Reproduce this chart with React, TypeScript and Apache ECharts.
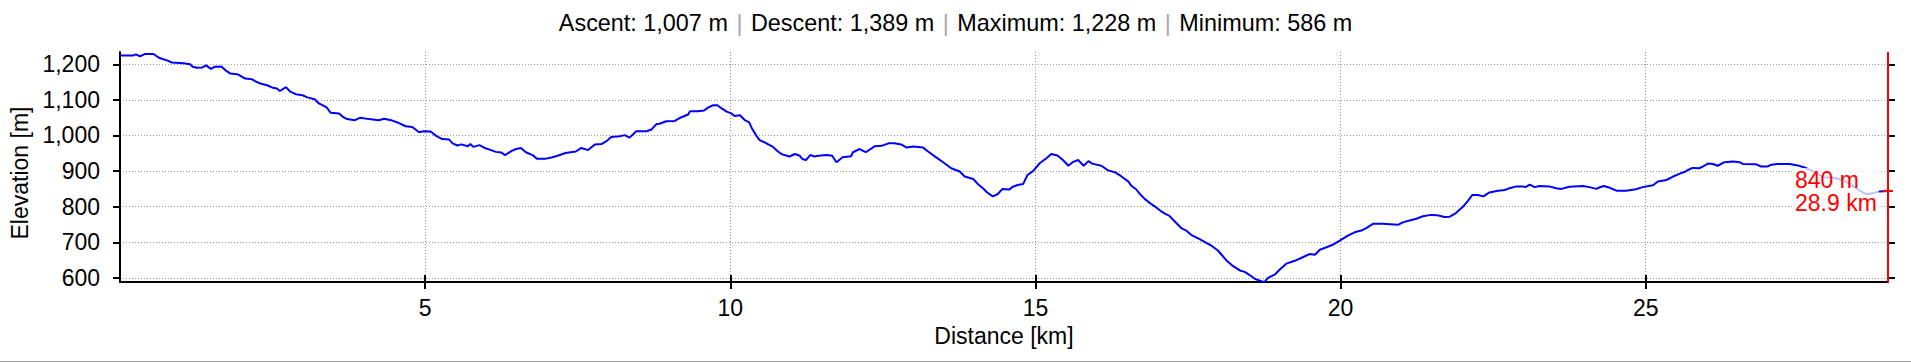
import React, { useEffect, useRef } from "react";
import * as echarts from "echarts";

// ---- data ----
const distanceKm = [
  0, 0.22, 0.26, 0.33, 0.41, 0.55, 0.63, 0.71, 0.77, 0.85, 1.04, 1.15, 1.19, 1.26, 1.35, 1.41, 1.49, 1.55, 1.66, 1.73,
  1.81, 1.94, 2.05, 2.16, 2.22, 2.3, 2.41, 2.49, 2.57, 2.62, 2.72, 2.79, 2.88, 2.99, 3.07, 3.19, 3.26, 3.34, 3.39, 3.45,
  3.59, 3.64, 3.72, 3.85, 3.94, 4.08, 4.24, 4.33, 4.44, 4.57, 4.68, 4.79, 4.9, 4.98, 5.09, 5.18, 5.28, 5.39, 5.45, 5.53,
  5.59, 5.7, 5.74, 5.79, 5.89, 5.99, 6.08, 6.16, 6.25, 6.31, 6.41, 6.49, 6.57, 6.65, 6.76, 6.83, 6.98, 7.07, 7.17, 7.3,
  7.47, 7.56, 7.67, 7.78, 7.89, 7.97, 8.05, 8.19, 8.27, 8.35, 8.46, 8.63, 8.71, 8.79, 8.84, 8.95, 9.09, 9.17, 9.31, 9.34,
  9.47, 9.57, 9.64, 9.72, 9.79, 9.86, 9.94, 10.02, 10.07, 10.16, 10.24, 10.31, 10.36, 10.43, 10.48, 10.57, 10.7, 10.78,
  10.85, 10.97, 11.06, 11.14, 11.18, 11.24, 11.31, 11.38, 11.44, 11.58, 11.67, 11.74, 11.84, 11.98, 12.01, 12.12, 12.22,
  12.37, 12.48, 12.59, 12.69, 12.8, 12.89, 13.0, 13.16, 13.24, 13.38, 13.51, 13.62, 13.76, 13.84, 13.98, 14.06, 14.14,
  14.21, 14.3, 14.38, 14.46, 14.57, 14.63, 14.71, 14.8, 14.87, 14.96, 15.07, 15.18, 15.26, 15.36, 15.45, 15.54, 15.62,
  15.7, 15.79, 15.87, 15.93, 16.08, 16.19, 16.3, 16.41, 16.52, 16.57, 16.65, 16.71, 16.79, 16.9, 16.98, 17.06, 17.13,
  17.19, 17.28, 17.39, 17.47, 17.55, 17.69, 17.77, 17.88, 17.99, 18.05, 18.13, 18.24, 18.35, 18.43, 18.51, 18.6, 18.7,
  18.75, 18.81, 18.92, 19.0, 19.11, 19.25, 19.38, 19.49, 19.58, 19.66, 19.77, 19.87, 19.98, 20.12, 20.23, 20.34, 20.42,
  20.53, 20.69, 20.94, 21.02, 21.13, 21.24, 21.35, 21.48, 21.59, 21.7, 21.79, 21.89, 22.0, 22.09, 22.16, 22.25, 22.34,
  22.44, 22.58, 22.69, 22.77, 22.88, 22.99, 23.03, 23.1, 23.18, 23.26, 23.42, 23.53, 23.62, 23.75, 23.97, 24.08, 24.19,
  24.24, 24.31, 24.4, 24.52, 24.68, 24.84, 24.95, 25.12, 25.2, 25.34, 25.44, 25.55, 25.64, 25.69, 25.77, 25.88, 25.94,
  26.02, 26.1, 26.18, 26.29, 26.43, 26.54, 26.59, 26.81, 26.89, 27.0, 27.06, 27.16, 27.36, 27.49, 27.6, 27.74, 27.9,
  28.07, 28.23, 28.37, 28.47, 28.61, 28.72, 28.83, 28.97,
];

const elevationM = [
  1225, 1225, 1228, 1222, 1229, 1229, 1219, 1214, 1211, 1205, 1203, 1200, 1193, 1190, 1191, 1197, 1187, 1193, 1194, 1183,
  1174, 1171, 1160, 1158, 1152, 1146, 1141, 1135, 1132, 1125, 1136, 1123, 1116, 1113, 1107, 1102, 1090, 1083, 1078, 1064,
  1062, 1054, 1046, 1043, 1050, 1046, 1043, 1047, 1043, 1035, 1026, 1024, 1009, 1012, 1011, 999, 990, 989, 978, 972,
  975, 970, 976, 968, 973, 964, 959, 954, 952, 945, 956, 962, 965, 953, 945, 935, 935, 938, 943, 951,
  955, 965, 959, 975, 976, 984, 996, 998, 1001, 994, 1012, 1012, 1017, 1032, 1033, 1040, 1041, 1049, 1059, 1068,
  1068, 1070, 1079, 1085, 1085, 1076, 1067, 1062, 1055, 1057, 1043, 1037, 1018, 999, 987, 980, 968, 955,
  947, 941, 948, 943, 934, 931, 945, 941, 943, 945, 943, 925, 939, 942, 953, 962, 953,
  970, 971, 978, 978, 975, 966, 969, 966, 955, 938, 922, 908, 899, 885, 878, 863, 852,
  840, 829, 835, 850, 848, 856, 861, 864, 889, 900, 922, 936, 948, 944, 931, 915, 926,
  931, 915, 928, 921, 915, 902, 897, 885, 871, 859, 849, 836, 822, 807, 798, 787, 780,
  775, 759, 740, 733, 721, 709, 701, 691, 677, 665, 649, 633, 621, 617, 608, 597, 591,
  588, 600, 609, 623, 640, 648, 658, 667, 665, 679, 686, 693, 704, 719, 728, 733, 740,
  752, 752, 749, 756, 761, 766, 773, 777, 776, 771, 772, 782, 799, 817, 833, 833, 829,
  840, 845, 847, 852, 857, 857, 855, 862, 855, 858, 857, 852, 850, 856, 858, 855, 850,
  854, 858, 854, 845, 845, 849, 855, 860, 871, 875, 884, 892, 898, 903, 909, 908, 913,
  921, 920, 915, 925, 927, 925, 920, 919, 913, 913, 918, 920, 920, 916, 910, 900, 883,
  882, 875, 861, 849, 835, 838, 843, 844,
];

const xTickValues = [5, 10, 15, 20, 25];
const yTickValues = [600, 700, 800, 900, 1000, 1100, 1200];
const statLabels = ["Ascent", "Descent", "Maximum", "Minimum"];
const statValues = ["1,007 m", "1,389 m", "1,228 m", "586 m"];
const cursorKm = 28.97;
const cursorElevation = 844;
const cursorLabels = ["840 m", "28.9 km"];
const xRange = [0, 28.97];
const yRange = [588.5, 1234.5];

const FONT = "'Liberation Sans', Arial, Helvetica, sans-serif";
const W = 1911;
const H = 363;
const G_LEFT = 120;
const G_RIGHT = 23;
const G_TOP = 52;
const G_BOTTOM = 81;
const G_W = W - G_LEFT - G_RIGHT;
const G_H = H - G_TOP - G_BOTTOM;

export default function App() {
  const ref = useRef<HTMLDivElement>(null);

  useEffect(() => {
    if (!ref.current) return;
    const chart = echarts.init(ref.current, undefined, { renderer: "svg" });

    const titleText = statLabels
      .map((l, i) => `{t|${l}: ${statValues[i]}}`)
      .join(" {s||} ");

    const seriesData = distanceKm.map((d, i) => [d, elevationM[i]]);
    const axisLineStyle = { color: "#000", width: 2 };
    const gridLine = { color: "#9a9a9a", width: 1, type: [1, 2] as any };

    chart.setOption({
      animation: false,
      backgroundColor: "#ffffff",
      textStyle: { fontFamily: FONT },
      title: {
        text: titleText,
        left: "center",
        top: 6,
        textStyle: {
          fontFamily: FONT,
          fontSize: 23.4,
          fontWeight: "normal",
          color: "#000",
          rich: {
            t: { fontFamily: FONT, fontSize: 23.4, color: "#000" },
            s: { fontFamily: FONT, fontSize: 23.4, color: "#a8a8a8", padding: [0, 2, 0, 2] },
          },
        },
      },
      grid: { left: G_LEFT, right: G_RIGHT, top: G_TOP, bottom: G_BOTTOM, containLabel: false },
      xAxis: [
        {
          type: "value",
          min: xRange[0],
          max: xRange[1],
          interval: 5,
          name: "Distance [km]",
          nameLocation: "middle",
          nameGap: 42,
          nameTextStyle: { fontFamily: FONT, fontSize: 23, color: "#000" },
          axisLine: { show: true, onZero: false, lineStyle: axisLineStyle },
          axisTick: { show: true, customValues: xTickValues, length: 7, lineStyle: axisLineStyle },
          axisLabel: { customValues: xTickValues, fontFamily: FONT, fontSize: 23, color: "#000", margin: 14 },
          splitLine: { show: true, lineStyle: gridLine },
        },
        {
          type: "value",
          min: xRange[0],
          max: xRange[1],
          interval: 5,
          position: "top",
          offset: -G_H,
          axisLine: { show: false },
          axisTick: { show: true, customValues: xTickValues, length: 7, lineStyle: axisLineStyle },
          axisLabel: { show: false },
          splitLine: { show: false },
        },
      ],
      yAxis: [
        {
          type: "value",
          min: yRange[0],
          max: yRange[1],
          name: "Elevation [m]",
          nameLocation: "middle",
          nameGap: 82,
          nameTextStyle: { fontFamily: FONT, fontSize: 23, color: "#000", padding: [0, 12, 0, 0] },
          axisLine: { show: true, onZero: false, lineStyle: axisLineStyle },
          axisTick: { show: true, customValues: yTickValues, length: 7, lineStyle: axisLineStyle },
          axisLabel: {
            customValues: yTickValues,
            fontFamily: FONT,
            fontSize: 23,
            color: "#000",
            margin: 20,
            formatter: (v: number) => v.toLocaleString("en-US"),
          },
          splitLine: { show: true, lineStyle: gridLine },
        },
        {
          type: "value",
          min: yRange[0],
          max: yRange[1],
          position: "right",
          offset: -G_W,
          axisLine: { show: false },
          axisTick: { show: true, customValues: yTickValues, length: 7, lineStyle: axisLineStyle },
          axisLabel: { show: false },
          splitLine: { show: false },
        },
      ],
      graphic: [
        {
          type: "line",
          shape: { x1: 0, y1: 361.5, x2: W, y2: 361.5 },
          style: { stroke: "#a0a0a0", lineWidth: 1 },
          silent: true,
        },
      ],
      series: [
        {
          type: "line",
          xAxisIndex: 0,
          yAxisIndex: 0,
          data: seriesData,
          showSymbol: false,
          symbol: "none",
          lineStyle: { color: "#0000ff", width: 2 },
          itemStyle: { color: "#0000ff" },
          z: 3,
          markLine: {
            silent: true,
            symbol: ["none", "none"],
            label: { show: false },
            lineStyle: { color: "#ff0000", type: "solid", width: 2 },
            data: [{ xAxis: cursorKm }],
            z: 4,
          },
          markPoint: {
            silent: true,
            symbol: "rect",
            symbolSize: [10, 2],
            itemStyle: { color: "#ff0000" },
            z: 6,
            data: [
              {
                coord: [cursorKm, cursorElevation],
                label: {
                  show: true,
                  formatter: cursorLabels.join("\n"),
                  position: [-90, -22],
                  align: "left",
                  verticalAlign: "top",
                  color: "#ff0000",
                  fontFamily: FONT,
                  fontSize: 23,
                  lineHeight: 23,
                  backgroundColor: "rgba(255,255,255,0.75)",
                  padding: [0, 2, 0, 2],
                },
              },
            ],
          },
        },
      ],
    });

    return () => chart.dispose();
  }, []);

  return (
    <div
      ref={ref}
      style={{ position: "absolute", left: 0, top: 0, width: W, height: H, background: "#fff" }}
    />
  );
}
